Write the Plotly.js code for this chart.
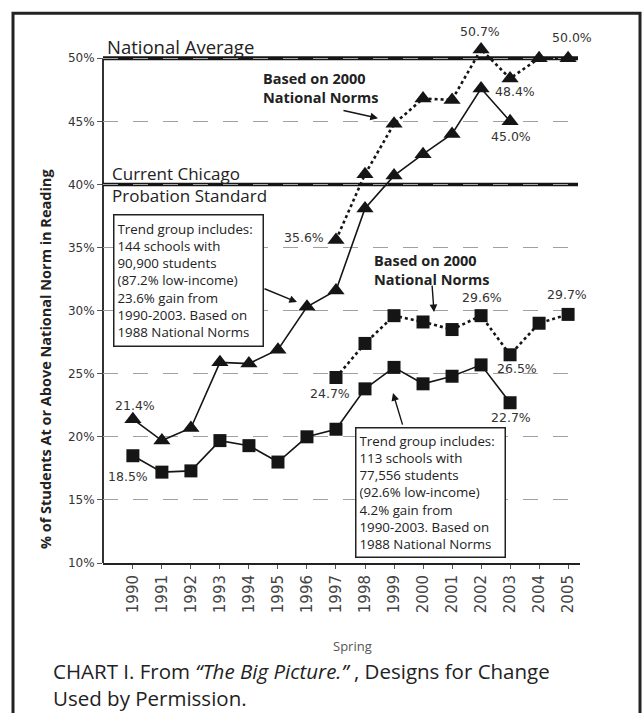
<!DOCTYPE html>
<html>
<head>
<meta charset="utf-8">
<script src="https://cdn.plot.ly/plotly-3.0.1.min.js"></script>
<style>
  html, body { margin: 0; padding: 0; background: #fff; }
  #chart { width: 644px; height: 713px; }
</style>
</head>
<body>
<div id="chart"></div>
<script>
// ---------------- DATA ----------------
const years = [1990, 1991, 1992, 1993, 1994, 1995, 1996, 1997, 1998, 1999, 2000, 2001, 2002, 2003, 2004, 2005];
const yearsTrend88 = [1990, 1991, 1992, 1993, 1994, 1995, 1996, 1997, 1998, 1999, 2000, 2001, 2002, 2003];
const yearsNorm2000 = [1997, 1998, 1999, 2000, 2001, 2002, 2003, 2004, 2005];

// 144-school trend group (triangles)
const triangles1988 = [21.4, 19.7, 20.7, 25.9, 25.8, 26.9, 30.3, 31.6, 38.1, 40.7, 42.4, 44.0, 47.6, 45.0];
const triangles2000 = [35.6, 40.8, 44.8, 46.8, 46.7, 50.7, 48.4, 50.0, 50.0];
// 113-school trend group (squares)
const squares1988 = [18.5, 17.2, 17.3, 19.7, 19.3, 18.0, 20.0, 20.6, 23.8, 25.5, 24.2, 24.8, 25.7, 22.7];
const squares2000 = [24.7, 27.4, 29.6, 29.1, 28.5, 29.6, 26.5, 29.0, 29.7];

const yTickVals = [10, 15, 20, 25, 30, 35, 40, 45, 50];
const yTickText = ["10%", "15%", "20%", "25%", "30%", "35%", "40%", "45%", "50%"];
const nationalAverage = 50;
const probationStandard = 40;

// labelled points: [series, year, text, xshift, yshift]
const pointLabels = [
  ["t88", 1990, "21.4%", 2, 14],
  ["s88", 1990, "18.5%", -5, -21],
  ["t00", 1997, "35.6%", -32, 2],
  ["t00", 2002, "50.7%", -1, 18],
  ["t00", 2005, "50.0%", 4, 21],
  ["t00", 2003, "48.4%", 5, -13],
  ["t88", 2003, "45.0%", 1, -15],
  ["s00", 2002, "29.6%", 1, 18],
  ["s00", 2005, "29.7%", -1, 20],
  ["s00", 1997, "24.7%", -6, -16],
  ["s00", 2003, "26.5%", 7, -14],
  ["s88", 2003, "22.7%", 1, -15]
];

const box1Text = "Trend group includes:<br>144 schools with<br>90,900 students<br>(87.2% low-income)<br>23.6% gain from<br>1990-2003. Based on<br>1988 National Norms";
const box2Text = "Trend group includes:<br>113 schools with<br>77,556 students<br>(92.6% low-income)<br>4.2% gain from<br>1990-2003. Based on<br>1988 National Norms";
const captionText = "CHART I. From <i>“The Big Picture.”</i> , Designs for Change<br>Used by Permission.";

// ---------------- LAYOUT HELPERS ----------------
const W = 644, H = 713;
const yBottom = 10, yTop = 52;
const pxPerUnit = 505 / 40;                  // 50% at y=58, 10% at y=563
const M = { l: 103, r: 64, t: 58 - (yTop - 50) * pxPerUnit, b: 150 };
const PW = W - M.l - M.r, PH = H - M.t - M.b;
const px = x => (x - M.l) / PW;          // pixel -> paper x
const py = y => (H - M.b - y) / PH;      // pixel -> paper y

const series = {
  t88: [yearsTrend88, triangles1988],
  t00: [yearsNorm2000, triangles2000],
  s88: [yearsTrend88, squares1988],
  s00: [yearsNorm2000, squares2000]
};
const valAt = (k, yr) => series[k][1][series[k][0].indexOf(yr)];

const BLACK = "#151515";
const FONT = "Liberation Sans, Arial, sans-serif";
const NUMFONT = "DejaVu Sans, sans-serif";
const TXTFONT = "Open Sans, sans-serif";

function line(x, y, dash, symbol, size) {
  return {
    type: "scatter", mode: "lines+markers", x: x, y: y, cliponaxis: false,
    line: { color: BLACK, width: dash === "solid" ? 1.6 : 2.6, dash: dash },
    marker: { symbol: symbol, size: size, color: BLACK, line: { width: 0 } },
    hoverinfo: "x+y", showlegend: false
  };
}

const traces = [
  line(yearsTrend88, triangles1988, "solid", "triangle-up", 15),
  line(yearsNorm2000, triangles2000, "dot", "triangle-up", 15),
  line(yearsTrend88, squares1988, "solid", "square", 13),
  line(yearsNorm2000, squares2000, "dot", "square", 13)
];

const annotations = [];
pointLabels.forEach(([k, yr, txt, xs, ys]) => {
  annotations.push({
    x: yr, y: valAt(k, yr), xref: "x", yref: "y", text: txt, showarrow: false,
    xshift: xs, yshift: ys, font: { family: NUMFONT, size: 12.5, color: "#333" }
  });
});

// reference-line captions
annotations.push(
  { xref: "paper", yref: "paper", x: px(105), y: py(46), xanchor: "left", yanchor: "middle",
    text: "National Average", showarrow: false, font: { family: TXTFONT, size: 18.5, color: "#222" } },
  { xref: "paper", yref: "paper", x: px(110), y: py(173), xanchor: "left", yanchor: "middle",
    text: "Current Chicago", showarrow: false, font: { family: TXTFONT, size: 17, color: "#222" } },
  { xref: "paper", yref: "paper", x: px(110), y: py(195), xanchor: "left", yanchor: "middle",
    text: "Probation Standard", showarrow: false, font: { family: TXTFONT, size: 17, color: "#222" } }
);

// "Based on 2000 National Norms" labels
annotations.push(
  { xref: "paper", yref: "paper", x: px(321), y: py(88), xanchor: "center", yanchor: "middle",
    text: "<b>Based on 2000<br>National Norms</b>", showarrow: false, align: "left",
    font: { family: TXTFONT, size: 14.5, color: "#222" } },
  { xref: "paper", yref: "paper", x: px(432), y: py(270), xanchor: "center", yanchor: "middle",
    text: "<b>Based on 2000<br>National Norms</b>", showarrow: false, align: "left",
    font: { family: TXTFONT, size: 14.5, color: "#222" } }
);

// boxes
annotations.push(
  { xref: "paper", yref: "paper", x: px(113), y: py(214), xanchor: "left", yanchor: "top",
    text: box1Text, showarrow: false, align: "left", width: 142, height: 124,
    bordercolor: "#222", borderwidth: 1.5, borderpad: 3, bgcolor: "#fff",
    font: { family: TXTFONT, size: 13.3, color: "#222" } },
  { xref: "paper", yref: "paper", x: px(355), y: py(427), xanchor: "left", yanchor: "top",
    text: box2Text, showarrow: false, align: "left", width: 142, height: 122,
    bordercolor: "#222", borderwidth: 1.5, borderpad: 3, bgcolor: "#fff",
    font: { family: TXTFONT, size: 13.3, color: "#222" } }
);

// arrows (head at target, tail offset in pixels)
function arrow(hx, hy, ax, ay) {
  return { xref: "paper", yref: "paper", x: px(hx), y: py(hy), ax: ax, ay: ay, text: "",
    showarrow: true, arrowhead: 2, arrowsize: 1.1, arrowwidth: 1.4, arrowcolor: BLACK, standoff: 0 };
}
annotations.push(
  arrow(297, 302, -34, -14),
  arrow(393, 393, 10, 33),
  arrow(378, 118, -36, -8),
  arrow(434, 312, -2, -28)
);

// axis titles
annotations.push(
  { xref: "paper", yref: "paper", x: px(45), y: py(359), xanchor: "center", yanchor: "middle",
    text: "<b>% of Students At or Above National Norm in Reading</b>", textangle: -90, showarrow: false,
    font: { family: TXTFONT, size: 14.5, color: "#222" } },
  { xref: "paper", yref: "paper", x: px(352), y: py(646), xanchor: "center", yanchor: "middle",
    text: "Spring", showarrow: false, font: { family: TXTFONT, size: 13, color: "#555" } }
);

// caption (one two-line text)
annotations.push(
  { xref: "paper", yref: "paper", x: px(51), y: py(685), xanchor: "left", yanchor: "middle",
    text: captionText, showarrow: false, align: "left",
    font: { family: TXTFONT, size: 20.5, color: "#222" } }
);

const shapes = [
  // outer frame
  { type: "rect", xref: "paper", yref: "paper", x0: px(13), x1: px(640), y0: py(725), y1: py(13),
    line: { color: "#222", width: 3 }, layer: "below" },
  // y axis line (10% to 50%)
  { type: "line", xref: "paper", yref: "y", x0: 0, x1: 0, y0: yBottom, y1: nationalAverage,
    line: { color: "#333", width: 2 }, layer: "below" },
  // national average
  { type: "line", xref: "paper", yref: "y", x0: 0, x1: px(578), y0: nationalAverage, y1: nationalAverage,
    line: { color: BLACK, width: 4 }, layer: "below" },
  // probation standard
  { type: "line", xref: "paper", yref: "y", x0: 0, x1: px(578), y0: probationStandard, y1: probationStandard,
    line: { color: BLACK, width: 3.5 }, layer: "below" }
];

const layout = {
  width: W, height: H,
  margin: M,
  paper_bgcolor: "#fff", plot_bgcolor: "#fff",
  showlegend: false,
  font: { family: FONT, color: "#333" },
  xaxis: {
    range: [1988.97, 2005.41], tickvals: years, ticktext: years.map(String),
    tickangle: -90, tickfont: { family: NUMFONT, size: 15, color: "#444" },
    showgrid: false, zeroline: false, showline: true, linecolor: "#222", linewidth: 2,
    ticks: "outside", ticklen: 4, tickwidth: 1, tickcolor: "#555"
  },
  yaxis: {
    range: [yBottom, yTop], tickvals: yTickVals, ticktext: yTickText,
    tickfont: { family: NUMFONT, size: 12, color: "#333" },
    showgrid: true, gridcolor: "#a0a0a0", gridwidth: 1, griddash: "longdash",
    zeroline: false, showline: false,
    ticks: "outside", ticklen: 5, tickwidth: 1, tickcolor: "#555"
  },
  shapes: shapes,
  annotations: annotations
};

Plotly.newPlot("chart", traces, layout, { staticPlot: true, displayModeBar: false });
</script>
</body>
</html>
